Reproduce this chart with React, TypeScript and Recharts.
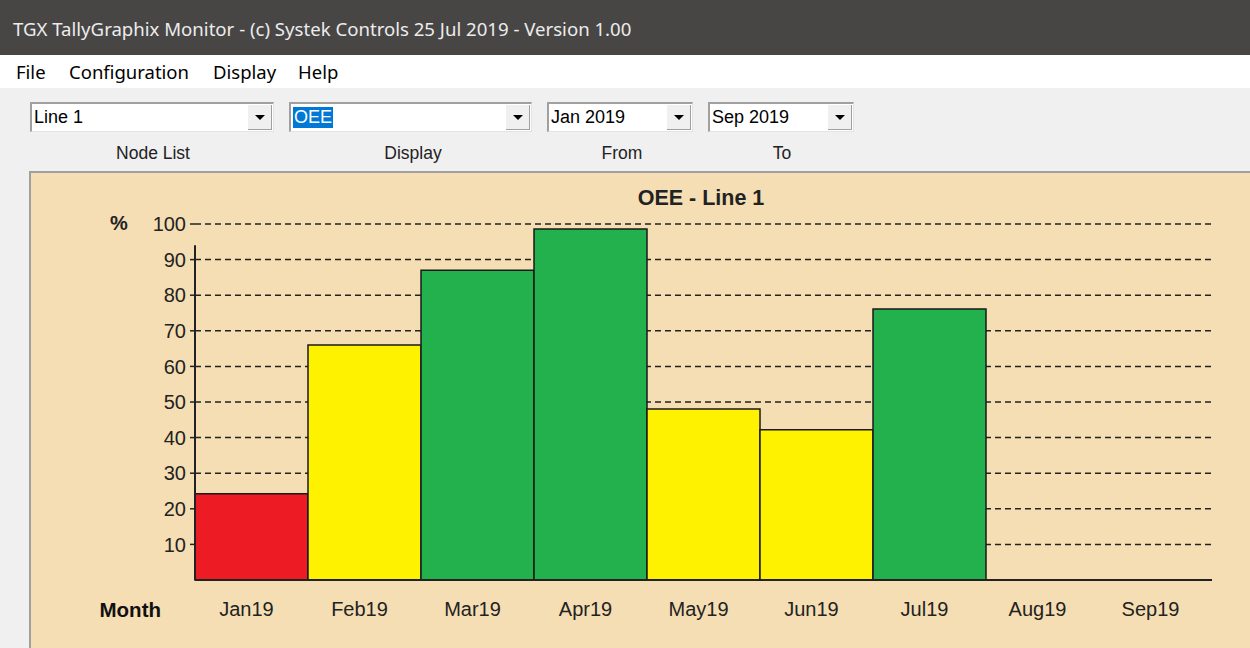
import React from 'react';
import { BarChart, Bar, XAxis, YAxis, CartesianGrid, Cell, ReferenceLine } from 'recharts';

const months = ['Jan19', 'Feb19', 'Mar19', 'Apr19', 'May19', 'Jun19', 'Jul19', 'Aug19', 'Sep19'];
const oee = [24.2, 66, 87, 98.6, 48, 42.2, 76.1, null, null];
const yTicks = [10, 20, 30, 40, 50, 60, 70, 80, 90, 100];

const data = months.map((m, i) => ({ month: m, oee: oee[i] }));

const RED = '#ed1c24';
const YELLOW = '#fff200';
const GREEN = '#22b14c';

// colour bands used by the monitor
const barColour = (v: number | null) => {
  if (v == null) return 'none';
  if (v < 30) return RED;
  if (v < 70) return YELLOW;
  return GREEN;
};

const uiFont = '"Noto Sans", "Open Sans", sans-serif';
const winFont = '"Liberation Sans", Arial, sans-serif';

const Combo = ({ left, width, text, selected }: any) => (
  <div
    style={{
      position: 'absolute', left, top: 102, width, height: 30, boxSizing: 'border-box',
      background: '#fff', borderTop: '2px solid #a0a0a0', borderLeft: '2px solid #a0a0a0',
      borderRight: '1px solid #e3e3e3', borderBottom: '1px solid #e3e3e3',
    }}
  >
    <span
      style={{
        position: 'absolute', left: 2, top: 3, fontFamily: winFont, fontSize: 18, lineHeight: '21px',
        color: selected ? '#fff' : '#000', background: selected ? '#0078d7' : 'transparent',
        padding: selected ? '0 1px' : 0,
      }}
    >
      {text}
    </span>
    <div
      style={{
        position: 'absolute', right: 1, top: 1, width: 24, height: 25, background: '#f0f0f0',
        borderRight: '1px solid #a0a0a0', borderBottom: '1px solid #a0a0a0', boxSizing: 'border-box',
      }}
    >
      <div
        style={{
          position: 'absolute', left: 7, top: 10, width: 0, height: 0,
          borderLeft: '5px solid transparent', borderRight: '5px solid transparent', borderTop: '5px solid #000',
        }}
      />
    </div>
  </div>
);

const Caption = ({ center, text }: any) => (
  <div
    style={{
      position: 'absolute', left: center - 60, width: 120, top: 143, textAlign: 'center',
      fontFamily: winFont, fontSize: 17.5, color: '#222',
    }}
  >
    {text}
  </div>
);

const App: React.FC = () => {
  return (
    <div style={{ position: 'fixed', left: 0, top: 0, width: 1250, height: 648, background: '#f0f0f0', overflow: 'hidden' }}>
      {/* window title */}
      <div style={{ position: 'absolute', left: 0, top: 0, width: 1250, height: 55, background: '#474645' }}>
        <div style={{ position: 'absolute', left: 13, top: 16, fontFamily: uiFont, fontSize: 18.6, color: '#ececec' }}>
          TGX TallyGraphix Monitor - (c) Systek Controls 25 Jul 2019 - Version 1.00
        </div>
      </div>
      {/* menu */}
      <div style={{ position: 'absolute', left: 0, top: 55, width: 1250, height: 33, background: '#fff', fontFamily: uiFont, fontSize: 18.5, color: '#000' }}>
        <span style={{ position: 'absolute', left: 16, top: 4 }}>File</span>
        <span style={{ position: 'absolute', left: 69, top: 4 }}>Configuration</span>
        <span style={{ position: 'absolute', left: 213, top: 4 }}>Display</span>
        <span style={{ position: 'absolute', left: 298, top: 4 }}>Help</span>
      </div>

      <Combo left={30} width={244} text="Line 1" />
      <Combo left={289} width={243} text="OEE" selected />
      <Combo left={547} width={146} text="Jan 2019" />
      <Combo left={708} width={146} text="Sep 2019" />
      <Caption center={153} text="Node List" />
      <Caption center={413} text="Display" />
      <Caption center={622} text="From" />
      <Caption center={782} text="To" />

      {/* chart panel */}
      <div
        style={{
          position: 'absolute', left: 29, top: 171, width: 1221, height: 477, boxSizing: 'border-box',
          background: '#f5deb3', borderTop: '2px solid #a0a0a0', borderLeft: '2px solid #a0a0a0',
        }}
      />
      <div
        style={{
          position: 'absolute', left: 501, width: 400, top: 186, textAlign: 'center',
          fontFamily: winFont, fontWeight: 'bold', fontSize: 21.5, color: '#222',
        }}
      >
        OEE - Line 1
      </div>
      <div style={{ position: 'absolute', left: 110, top: 212, fontFamily: winFont, fontWeight: 'bold', fontSize: 20, color: '#222' }}>%</div>

      <div style={{ position: 'absolute', left: 30, top: 172 }}>
        <BarChart
          width={1220}
          height={476}
          data={data}
          margin={{ top: 52, right: 38, left: 0, bottom: 0 }}
          barCategoryGap={0}
        >
          <CartesianGrid
            vertical={false}
            horizontalValues={yTicks}
            stroke="#222"
            strokeWidth={1.5}
            strokeDasharray="6 4"
          />
          <XAxis
            dataKey="month"
            height={68}
            tickLine={false}
            tickMargin={16}
            axisLine={{ stroke: '#222', strokeWidth: 2 }}
            tick={{ fill: '#222', fontSize: 20, fontFamily: winFont, dx: -5 }}
            label={{ value: 'Month', position: 'left', offset: 34, dy: -4, fill: '#111', fontSize: 20.5, fontWeight: 'bold', fontFamily: winFont }}
          />
          <YAxis
            width={165}
            domain={[0, 100]}
            ticks={yTicks}
            interval={0}
            axisLine={false}
            tickSize={5}
            tickMargin={4}
            tickLine={{ stroke: '#222', strokeWidth: 1.5 }}
            tick={{ fill: '#222', fontSize: 20, fontFamily: winFont }}
          />
          <ReferenceLine
            segment={[{ x: 'Jan19', y: 0 }, { x: 'Jan19', y: 94 }]}
            position="start"
            stroke="#222"
            strokeWidth={2}
          />
          <Bar dataKey="oee" stroke="#1a1a1a" strokeWidth={1.5} isAnimationActive={false}>
            {data.map((d, i) => (
              <Cell key={i} fill={barColour(d.oee)} />
            ))}
          </Bar>
        </BarChart>
      </div>
    </div>
  );
};

export default App;
